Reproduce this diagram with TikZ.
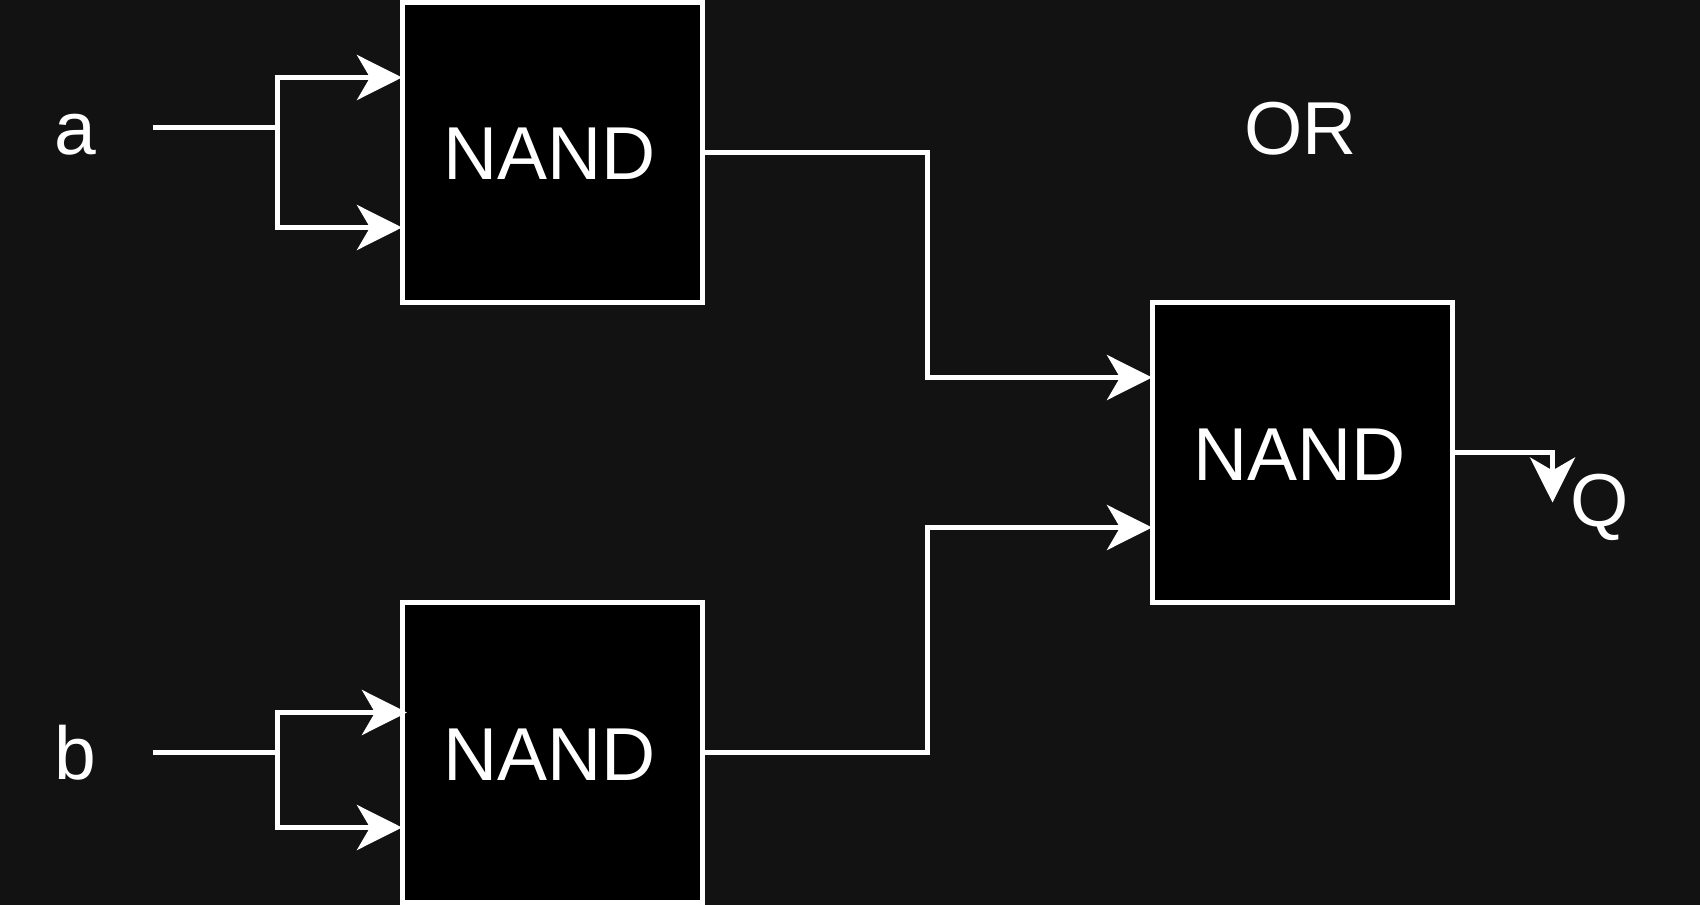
\documentclass[tikz,border=0pt]{standalone}
\usepackage{fontspec}
\setmainfont{Liberation Sans}
\usetikzlibrary{arrows.meta}
\definecolor{bgcol}{HTML}{121212}
\tikzset{
    gate/.style={draw=white, fill=black, text=white, line width=3.75pt, minimum size=225pt, inner sep=0pt, text height=41.25pt, text depth=0pt, font=\fontsize{56.25}{60}\selectfont},
    sig/.style={text=white, inner sep=0pt, anchor=base, font=\fontsize{56.25}{60}\selectfont},
    wire/.style={draw=white, line width=3.75pt},
    arrowwire/.style={wire, -{Stealth[length=33.75pt, width=33.75pt, inset=9.75pt]}}
}
\begin{document}
\begin{tikzpicture}[x=0.75pt, y=-0.75pt]
                    % Background
                    \useasboundingbox (0,0) rectangle (1700,905);
                    \fill[bgcol] (0,0) rectangle (1700,905);
                    % Inputs
                    \node[sig] (a) at (75,155) {a};
                    \node[sig] (b) at (75,779) {b};
                    \coordinate (aIn) at (152.5,127.5);
                    \coordinate (aFork) at (277.5,127.5);
                    \coordinate (aUp) at (402,77.5);
                    \coordinate (aDown) at (402,227.5);
                    \coordinate (bIn) at (152.5,752.5);
                    \coordinate (bFork) at (277.5,752.5);
                    \coordinate (bUp) at (407,712.5);
                    \coordinate (bDown) at (402,827.5);
                    \coordinate (orUp) at (1152,377.5);
                    \coordinate (orDown) at (1152,527.5);
                    \coordinate (qEnd) at (1552.5,502.5);
                    % Wires under the gates
                    \draw[wire] (aIn) -- (aFork);
                    \draw[wire] (bIn) -- (bFork);
                    % Gates
                    \node[gate] (nandA) at (552.5,152.5) {NAND\kern4pt};
                    \node[gate] (nandB) at (552.5,752.5) {NAND\kern4pt};
                    \node[gate] (nandOr) at (1302.5,452.5) {NAND\kern4pt};
                    % Labels
                    \node[sig] (orLabel) at (1300.5,155) {OR};
                    \node[sig] (q) at (1600,527) {Q};
                    % Input forks
                    \draw[arrowwire] (aFork) |- (aUp);
                    \draw[arrowwire] (aFork) |- (aDown);
                    \draw[arrowwire] (bFork) |- (bUp);
                    \draw[arrowwire] (bFork) |- (bDown);
                    % Gate outputs
                    \draw[arrowwire] (nandA.east) -| (927.5,377.5) -- (orUp);
                    \draw[arrowwire] (nandB.east) -| (927.5,527.5) -- (orDown);
                    \draw[arrowwire] (nandOr.east) -| (qEnd);
\end{tikzpicture}
\end{document}
